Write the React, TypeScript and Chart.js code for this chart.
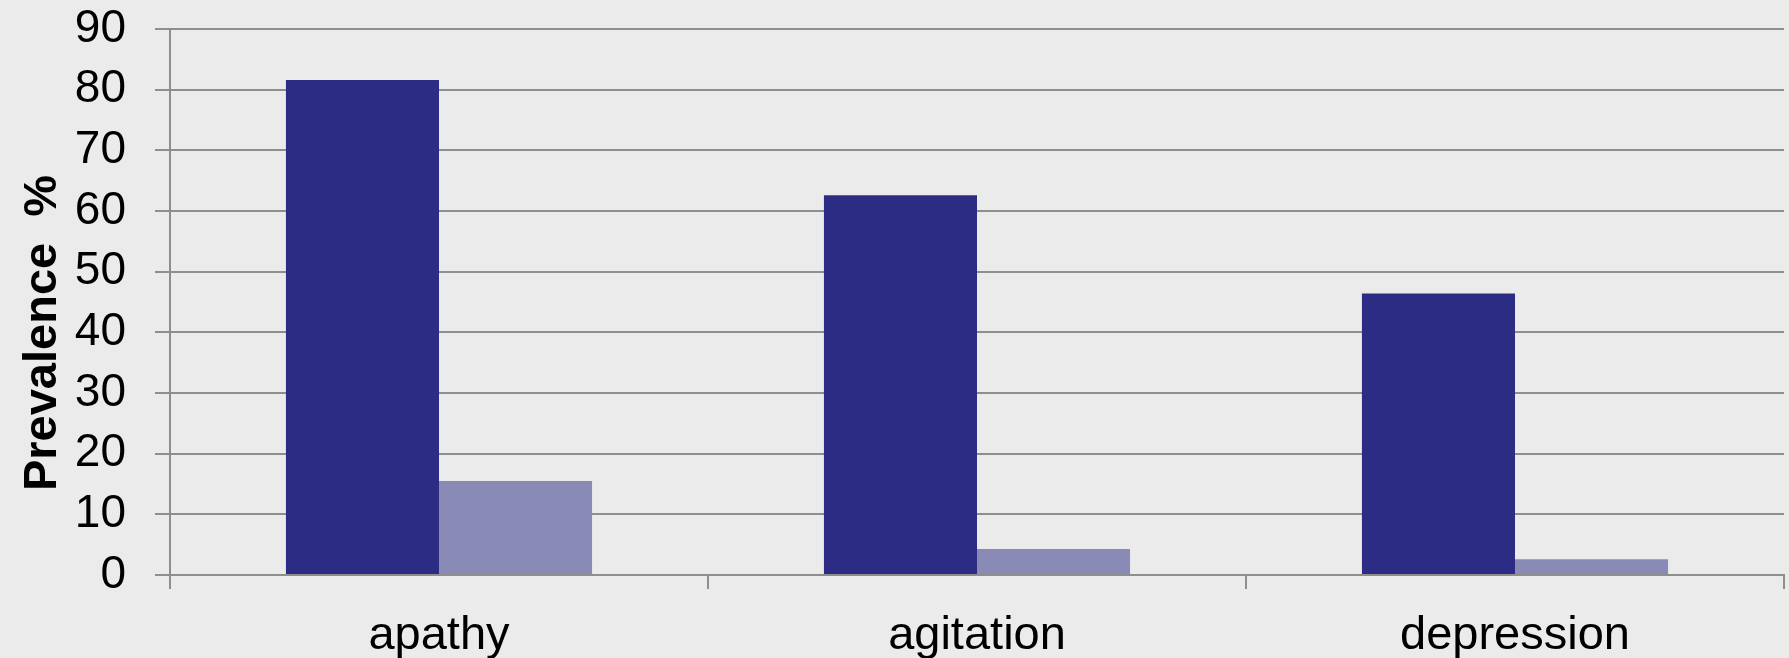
import React, { useEffect, useRef } from "react";
import { Chart, registerables } from "chart.js";

Chart.register(...registerables);

const categories = ["apathy", "agitation", "depression"];
const seriesA = [81.6, 62.6, 46.4];
const seriesB = [15.5, 4.3, 2.6];
const yTicks = [0, 10, 20, 30, 40, 50, 60, 70, 80, 90];
const yTitle = "Prevalence  %";

const FONT = "'Liberation Sans', Arial, Helvetica, sans-serif";
const GRID = "#8e8e8e";
const BG = "#ebebeb";

export default function App() {
  const ref = useRef<HTMLCanvasElement | null>(null);

  useEffect(() => {
    document.body.style.margin = "0";
    const canvas = ref.current;
    if (!canvas) return;

    const bgPlugin = {
      id: "bg",
      beforeDraw(chart: any) {
        const ctx = chart.ctx;
        ctx.save();
        ctx.fillStyle = BG;
        ctx.fillRect(0, 0, chart.width, chart.height);
        ctx.restore();
      },
    };

    const titlePlugin = {
      id: "ytitle",
      afterDraw(chart: any) {
        const ctx = chart.ctx;
        ctx.save();
        ctx.translate(43, 333);
        ctx.rotate(-Math.PI / 2);
        ctx.font = `bold 47px ${FONT}`;
        ctx.fillStyle = "#000";
        ctx.textAlign = "center";
        ctx.textBaseline = "middle";
        ctx.fillText(yTitle, 0, 0);
        ctx.restore();
      },
    };

    const chart = new Chart(canvas, {
      type: "bar",
      data: {
        labels: categories,
        datasets: [
          {
            data: seriesA,
            backgroundColor: "#2d2c85",
            borderWidth: 0,
            categoryPercentage: 0.569,
            barPercentage: 1,
          },
          {
            data: seriesB,
            backgroundColor: "#8a8ab6",
            borderWidth: 0,
            categoryPercentage: 0.569,
            barPercentage: 1,
          },
        ],
      },
      options: {
        responsive: false,
        animation: false,
        events: [],
        layout: { padding: { top: 29, right: 5, left: 0, bottom: 0 } },
        plugins: {
          legend: { display: false },
          tooltip: { enabled: false },
        },
        scales: {
          x: {
            offset: true,
            grid: {
              offset: true,
              drawOnChartArea: false,
              drawTicks: true,
              tickLength: 14,
              color: GRID,
              lineWidth: 2,
            },
            border: { display: true, color: GRID, width: 2 },
            ticks: {
              color: "#000",
              font: { family: FONT, size: 47 },
              padding: 19,
            },
            afterFit(scale: any) {
              scale.height = 83;
              scale.paddingLeft = 0;
              scale.paddingRight = 0;
            },
          },
          y: {
            min: 0,
            max: 90,
            afterBuildTicks(scale: any) {
              scale.ticks = yTicks.map((v) => ({ value: v }));
            },
            grid: {
              color: GRID,
              lineWidth: 2,
              drawTicks: true,
              tickLength: 15,
            },
            border: { display: true, color: GRID, width: 2 },
            ticks: {
              color: "#000",
              font: { family: FONT, size: 46 },
              padding: 29,
              autoSkip: false,
              stepSize: 10,
            },
            afterFit(scale: any) {
              scale.width = 170;
              scale.paddingTop = 0;
              scale.paddingBottom = 0;
            },
          },
        },
      },
      plugins: [bgPlugin, titlePlugin],
    } as any);

    return () => chart.destroy();
  }, []);

  return (
    <div style={{ width: 1789, height: 658, background: BG }}>
      <canvas ref={ref} width={1789} height={658} style={{ display: "block" }} />
    </div>
  );
}
